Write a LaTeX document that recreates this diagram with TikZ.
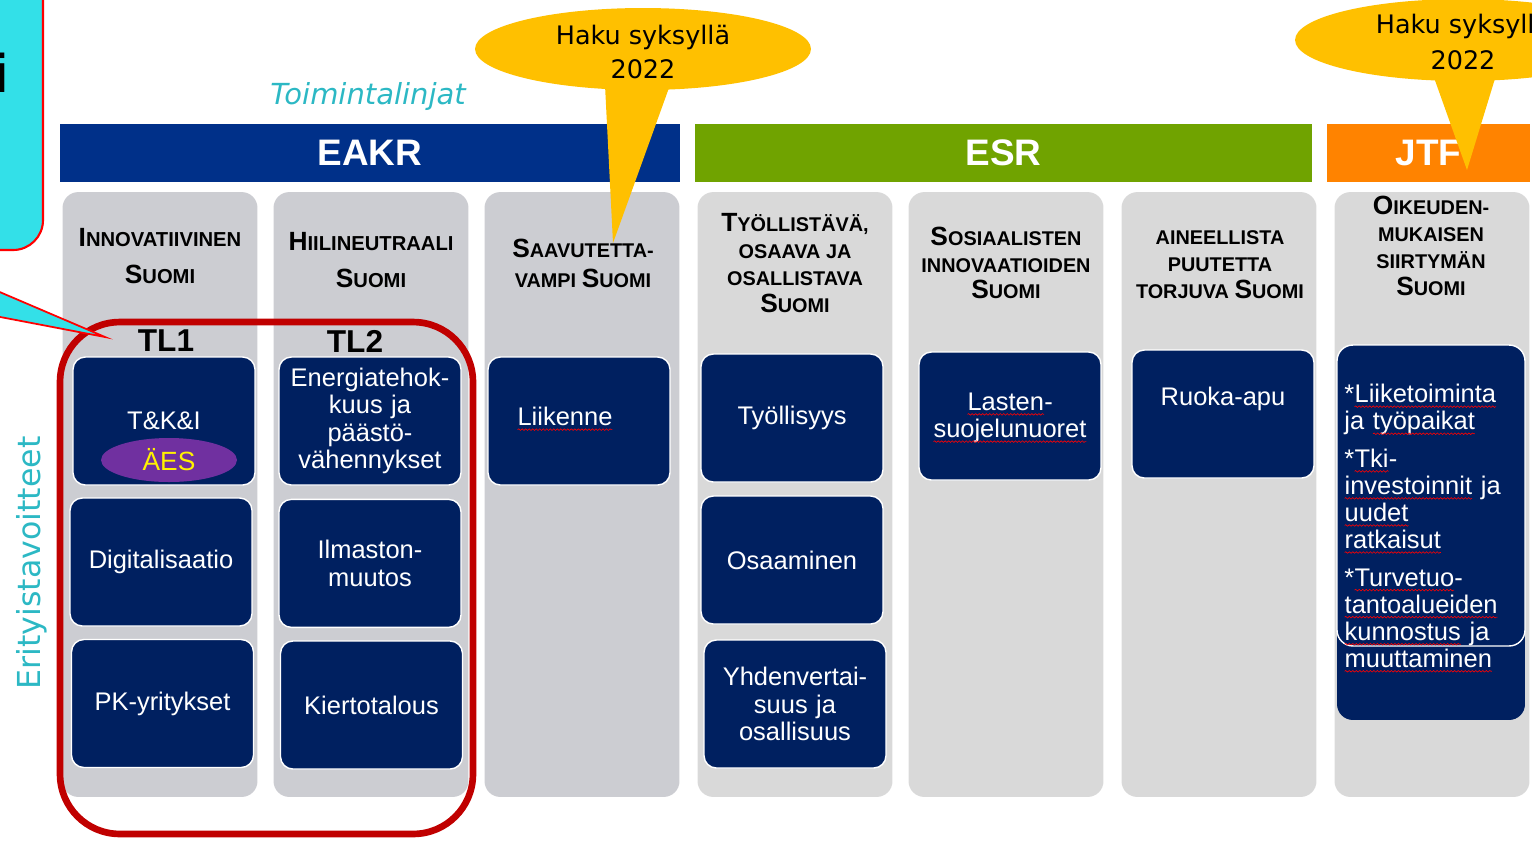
\documentclass[tikz,border=0pt]{standalone}
\usepackage{fontspec}
\setmainfont{Liberation Sans}
\newfontfamily\tahoma{DejaVu Sans}
\usetikzlibrary{positioning,shapes.geometric,decorations.pathmorphing}

\definecolor{navycell}{HTML}{002060}
\definecolor{eakrblue}{HTML}{003089}
\definecolor{esrgreen}{HTML}{70A300}
\definecolor{jtforange}{HTML}{FF8300}
\definecolor{calloutyellow}{HTML}{FFC000}
\definecolor{calloutcyan}{HTML}{33E0E8}
\definecolor{aespurple}{HTML}{7030A0}
\definecolor{framered}{HTML}{C00000}
\definecolor{tealtext}{HTML}{2CB8C4}
\definecolor{colgrayA}{HTML}{CCCDD2}
\definecolor{colgrayB}{HTML}{D9D9D9}

% bigger first letter of the small caps headings
\newcommand\hcap[1]{{\fontsize{15}{15}\selectfont #1}}
% spell checker squiggle
\newcommand\spell[1]{\tikz[baseline=(sw.base)]{%
  \node[inner sep=0pt, outer sep=0pt, text width={}, minimum width=0pt, minimum height=0pt,
        draw=none, fill=none, text=white] (sw) {#1};
  \draw[red, line width=0.35pt, decorate, decoration={snake, amplitude=0.45pt, segment length=2pt}]
    ([yshift=-2.2pt]sw.base west) -- ([yshift=-2.2pt]sw.base east);}}

\tikzset{
  band/.style={minimum height=1.16cm, inner sep=0pt, text=white,
    font=\bfseries\fontsize{21}{24}\selectfont},
  colbox/.style={rounded corners=9pt, minimum width=3.9cm, minimum height=12.1cm, inner sep=0pt},
  headA/.style={align=center, inner sep=0pt, font=\bfseries\fontsize{11.5}{21}\selectfont},
  headB/.style={align=center, inner sep=0pt, font=\bfseries\fontsize{11.3}{15.3}\selectfont},
  headC/.style={align=center, inner sep=0pt, font=\bfseries\fontsize{11.3}{17}\selectfont},
  cell/.style={fill=navycell, draw=white, line width=0.8pt, rounded corners=7pt,
    minimum width=3.64cm, minimum height=2.56cm, text width=3.4cm, align=center,
    text=white, inner sep=2pt, font=\fontsize{14.5}{15.5}\selectfont},
  celltext/.style={text=white, align=center, inner sep=0pt, font=\fontsize{14.5}{15.5}\selectfont},
  tllabel/.style={inner sep=0pt, font=\bfseries\fontsize{18}{20}\selectfont},
  callout/.style={ellipse, fill=calloutyellow, minimum width=6.72cm, minimum height=1.64cm,
    align=center, inner sep=0pt, font=\tahoma\fontsize{14.5}{19}\selectfont},
}

\begin{document}
\begin{tikzpicture}[x=0.02cm, y=-0.02cm]
  \clip (0,0) rectangle (1532,840);

  % Funds
  \node[band, fill=eakrblue, minimum width=12.4cm] (eakr) at (370,153) {EAKR};
  \node[band, fill=esrgreen, minimum width=12.34cm] (esr) at (1003.5,153) {ESR};
  \node[band, fill=jtforange, minimum width=4.06cm] (jtf) at (1428.5,153) {JTF};

  % Columns
  \foreach \cx/\cc [count=\i] in {160/colgrayA, 371/colgrayA, 582/colgrayA,
                                   795/colgrayB, 1006/colgrayB, 1219/colgrayB, 1432/colgrayB}
    \node[colbox, fill=\cc] (col\i) at (\cx,494.5) {};

  % Column headings
  \node[headA] (head1) at (160,256) {\hcap{I}NNOVATIIVINEN\\\hcap{S}UOMI};
  \node[headA] (head2) at (371,260) {\hcap{H}IILINEUTRAALI\\\hcap{S}UOMI};
  \node[headC] (head3) at (583,263) {\hcap{S}AAVUTETTA-\\VAMPI \hcap{S}UOMI};
  \node[headB] (head4) at (795,263) {\hcap{T}YÖLLISTÄVÄ,\\OSAAVA JA\\OSALLISTAVA\\\hcap{S}UOMI};
  \node[headB] (head5) at (1006,263) {\hcap{S}OSIAALISTEN\\INNOVAATIOIDEN\\\hcap{S}UOMI};
  \node[headB] (head6) at (1220,265) {AINEELLISTA\\PUUTETTA\\TORJUVA \hcap{S}UOMI};
  \node[headB] (head7) at (1431,246) {\hcap{O}IKEUDEN-\\MUKAISEN\\SIIRTYMÄN\\\hcap{S}UOMI};

  % EAKR cells
  \node[cell] (tki) at (164,421) {T\&K\&I\\[30pt]};
  \node[cell] (digi) at (161,562) {Digitalisaatio};
  \node[cell] (pk) at (162.5,703.5) {PK-yritykset};
  \node[cell] (energia) at (370,421) {Energiatehok-\\kuus ja\\päästö-\\vähennykset};
  \node[cell, below=0.26cm of energia.south, anchor=north] (ilmasto) {Ilmaston-\\muutos};
  \node[cell] (kierto) at (371.5,705) {Kiertotalous};
  \node[cell] (liikenne) at (579,421) {};
  \node[celltext] (liikennetext) at (565,419) {\spell{Liikenne}};

  % ESR cells
  \node[cell] (tyo) at (792,418) {Työllisyys};
  \node[cell] (osaaminen) at (792,560) {Osaaminen};
  \node[cell] (yhden) at (795,704) {Yhdenvertai-\\suus ja\\osallisuus};
  \node[cell] (lasten) at (1010,416) {};
  \node[celltext] (lastentext) at (1010,418) {\spell{Lasten}-\\\spell{suojelunuoret}};
  \node[cell] (ruoka) at (1223,414) {};
  \node[celltext] (ruokatext) at (1223,399) {Ruoka-apu};

  % JTF cell
  \node[fill=navycell, rounded corners=9pt, minimum width=3.76cm, minimum height=7.5cm,
        inner sep=0pt] (jtfcell) at (1431,532.5) {};
  \node[draw=white, line width=0.8pt, rounded corners=9pt, minimum width=3.76cm,
        minimum height=6.02cm, inner sep=0pt] (jtfoutline) at (1431,495.5) {};
  \node[anchor=north west, text width=3.7cm, align=left, text=white, inner sep=0pt,
        font=\fontsize{14.5}{15.4}\selectfont] (jtftext) at (1344,384)
    {*\spell{Liiketoiminta}\\ja \spell{työpaikat}\\[6pt]
     *\spell{Tki}-\\\spell{investoinnit} ja\\\spell{uudet}\\\spell{ratkaisut}\\[6pt]
     *\spell{Turvetuo}-\\\spell{tantoalueiden}\\\spell{kunnostus} ja\\\spell{muuttaminen}};

  % AES
  \node[ellipse, fill=aespurple, text=yellow, minimum width=2.72cm, minimum height=0.88cm,
        inner sep=0pt, font=\fontsize{15}{15}\selectfont] (aes) at (169,460) {ÄES};

  % Policy lines TL1 and TL2
  \node[tllabel] (tl1) at (166,341) {TL1};
  \node[tllabel] (tl2) at (355,341) {TL2};
  \node[draw=framered, line width=3.8pt, rounded corners=34pt, minimum width=8.26cm,
        minimum height=10.24cm, inner sep=0pt] (tlframe) at (266.5,578) {};

  % Callouts
  \fill[calloutyellow] (605,85) -- (613,243) -- (670,85) -- cycle;
  \node[callout] (haku1) at (643,49) {};
  \node[align=center, inner sep=0pt, font=\tahoma\fontsize{14.5}{19}\selectfont] (haku1text) at (643,52) {Haku syksyllä\\2022};
  \fill[calloutyellow] (1432,72) -- (1467,170) -- (1497,72) -- cycle;
  \node[callout] (haku2) at (1463,40) {};
  \node[align=center, inner sep=0pt, font=\tahoma\fontsize{14.5}{20.5}\selectfont] (haku2text) at (1463,42) {Haku syksyllä\\2022};

  % cut off box on the left
  \draw[red, line width=1.2pt, fill=calloutcyan, rounded corners=17pt] (-60,-60) rectangle (43,250);
  \node[anchor=base east, inner sep=0pt, font=\bfseries\fontsize{31}{31}\selectfont] (cutletter) at (9,92) {i};
  \coordinate (pointertip) at (105,337);
  \draw[red, line width=1pt, fill=calloutcyan] (-5,290) -- (pointertip) -- (-5,316) -- cycle;

  % Side texts
  \node[text=tealtext, font=\tahoma\itshape\fontsize{16.5}{18}\selectfont] (linjat) at (368,96) {Toimintalinjat};
  \node[text=tealtext, rotate=90, font=\tahoma\fontsize{18}{18}\selectfont] (tavoitteet) at (32,563) {Erityistavoitteet};
\end{tikzpicture}
\end{document}
